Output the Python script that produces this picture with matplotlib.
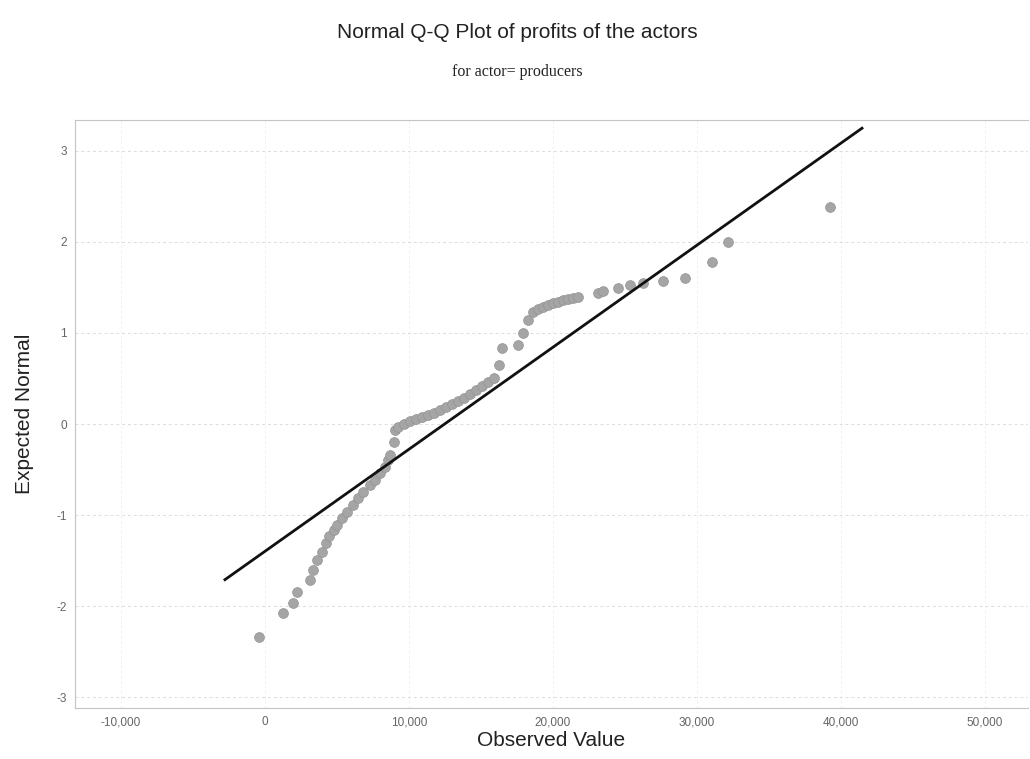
import matplotlib
matplotlib.use("Agg")
import matplotlib.pyplot as plt
from matplotlib.ticker import FuncFormatter

plt.rcParams["axes.unicode_minus"] = False

# ---- data ----
observed = [-417, 1250, 1944, 2222, 3125, 3333, 3611, 3958, 4236, 4444, 4792,
            5000, 5347, 5694, 6111, 6458, 6806, 7292, 7639, 7986, 8333, 8542, 8681, 8958, 9028,
            9236, 9653, 10069, 10486, 10903, 11319, 11736, 12153, 12569, 12986, 13403, 13819,
            14236, 14653, 15069, 15486, 15903,
            16250, 16458, 17569, 17917, 18264, 18611, 18958, 19306, 19653, 20000, 20347,
            20694, 21042, 21389,
            21736, 23125, 23472, 24514, 25347, 26250, 27639, 29167,
            31042, 32153, 39236]
expected = [-2.34, -2.08, -1.97, -1.85, -1.71, -1.60, -1.49, -1.41, -1.31, -1.23, -1.16,
            -1.11, -1.03, -0.97, -0.89, -0.81, -0.75, -0.67, -0.62, -0.54, -0.47, -0.40, -0.34, -0.20, -0.07,
            -0.03, 0.00, 0.03, 0.05, 0.08, 0.10, 0.12, 0.15, 0.19, 0.22, 0.25, 0.29,
            0.33, 0.37, 0.42, 0.46, 0.51,
            0.65, 0.84, 0.87, 1.00, 1.14, 1.23, 1.26, 1.29, 1.31, 1.33, 1.34,
            1.36, 1.37, 1.38,
            1.40, 1.44, 1.46, 1.49, 1.53, 1.55, 1.57, 1.60,
            1.78, 2.00, 2.38]

line_x = [-2780, 41460]
line_y = [-1.71, 3.25]

x_ticks = [-10000, 0, 10000, 20000, 30000, 40000, 50000]
y_ticks = [-3, -2, -1, 0, 1, 2, 3]

title = "Normal Q-Q Plot of profits of the actors"
subtitle = "for actor= producers"
xlabel = "Observed Value"
ylabel = "Expected Normal"

sans = ["Liberation Sans", "DejaVu Sans"]

fig = plt.figure(figsize=(10.30, 7.59), dpi=100)
ax = fig.add_axes([75 / 1030, 1 - 708 / 759, (1028 - 75) / 1030, (708 - 120) / 759])

ax.set_xlim(-13194, 52986)
ax.set_ylim(-3.12, 3.34)

ax.set_xticks(x_ticks)
ax.set_yticks(y_ticks)
ax.xaxis.set_major_formatter(FuncFormatter(lambda v, p: f"{int(v):,}"))
ax.yaxis.grid(True, color="#dcdcdc", linestyle=(0, (3, 3)), linewidth=0.7)
ax.xaxis.grid(True, color="#ececec", linestyle=(0, (3, 3)), linewidth=0.6)
ax.set_axisbelow(True)

ax.scatter(observed, expected, s=50, color="#a5a5a5", edgecolors="#939393",
           linewidths=0.5, zorder=3)
ax.plot(line_x, line_y, color="#111111", linewidth=2.0, zorder=4)

ax.spines["right"].set_visible(False)
for s in ["left", "bottom", "top"]:
    ax.spines[s].set_color("#c4c4c4")
    ax.spines[s].set_linewidth(0.8)

ax.tick_params(axis="both", length=0, colors="#666666", labelsize=8.5, pad=6)
for lab in ax.get_xticklabels() + ax.get_yticklabels():
    lab.set_family(sans)

ax.set_xlabel(xlabel, fontsize=15, family=sans, color="#222222", labelpad=2)
ax.set_ylabel(ylabel, fontsize=15, family=sans, color="#222222", labelpad=16)

fig.text(517 / 1030, 1 - 33 / 759, title, ha="center", va="center",
         fontsize=15, family=sans, color="#222222")
fig.text(517 / 1030, 1 - 72 / 759, subtitle, ha="center", va="center",
         fontsize=11.5, family=["Liberation Serif", "DejaVu Serif"], color="#222222")

fig.savefig("out.png", dpi=100)
